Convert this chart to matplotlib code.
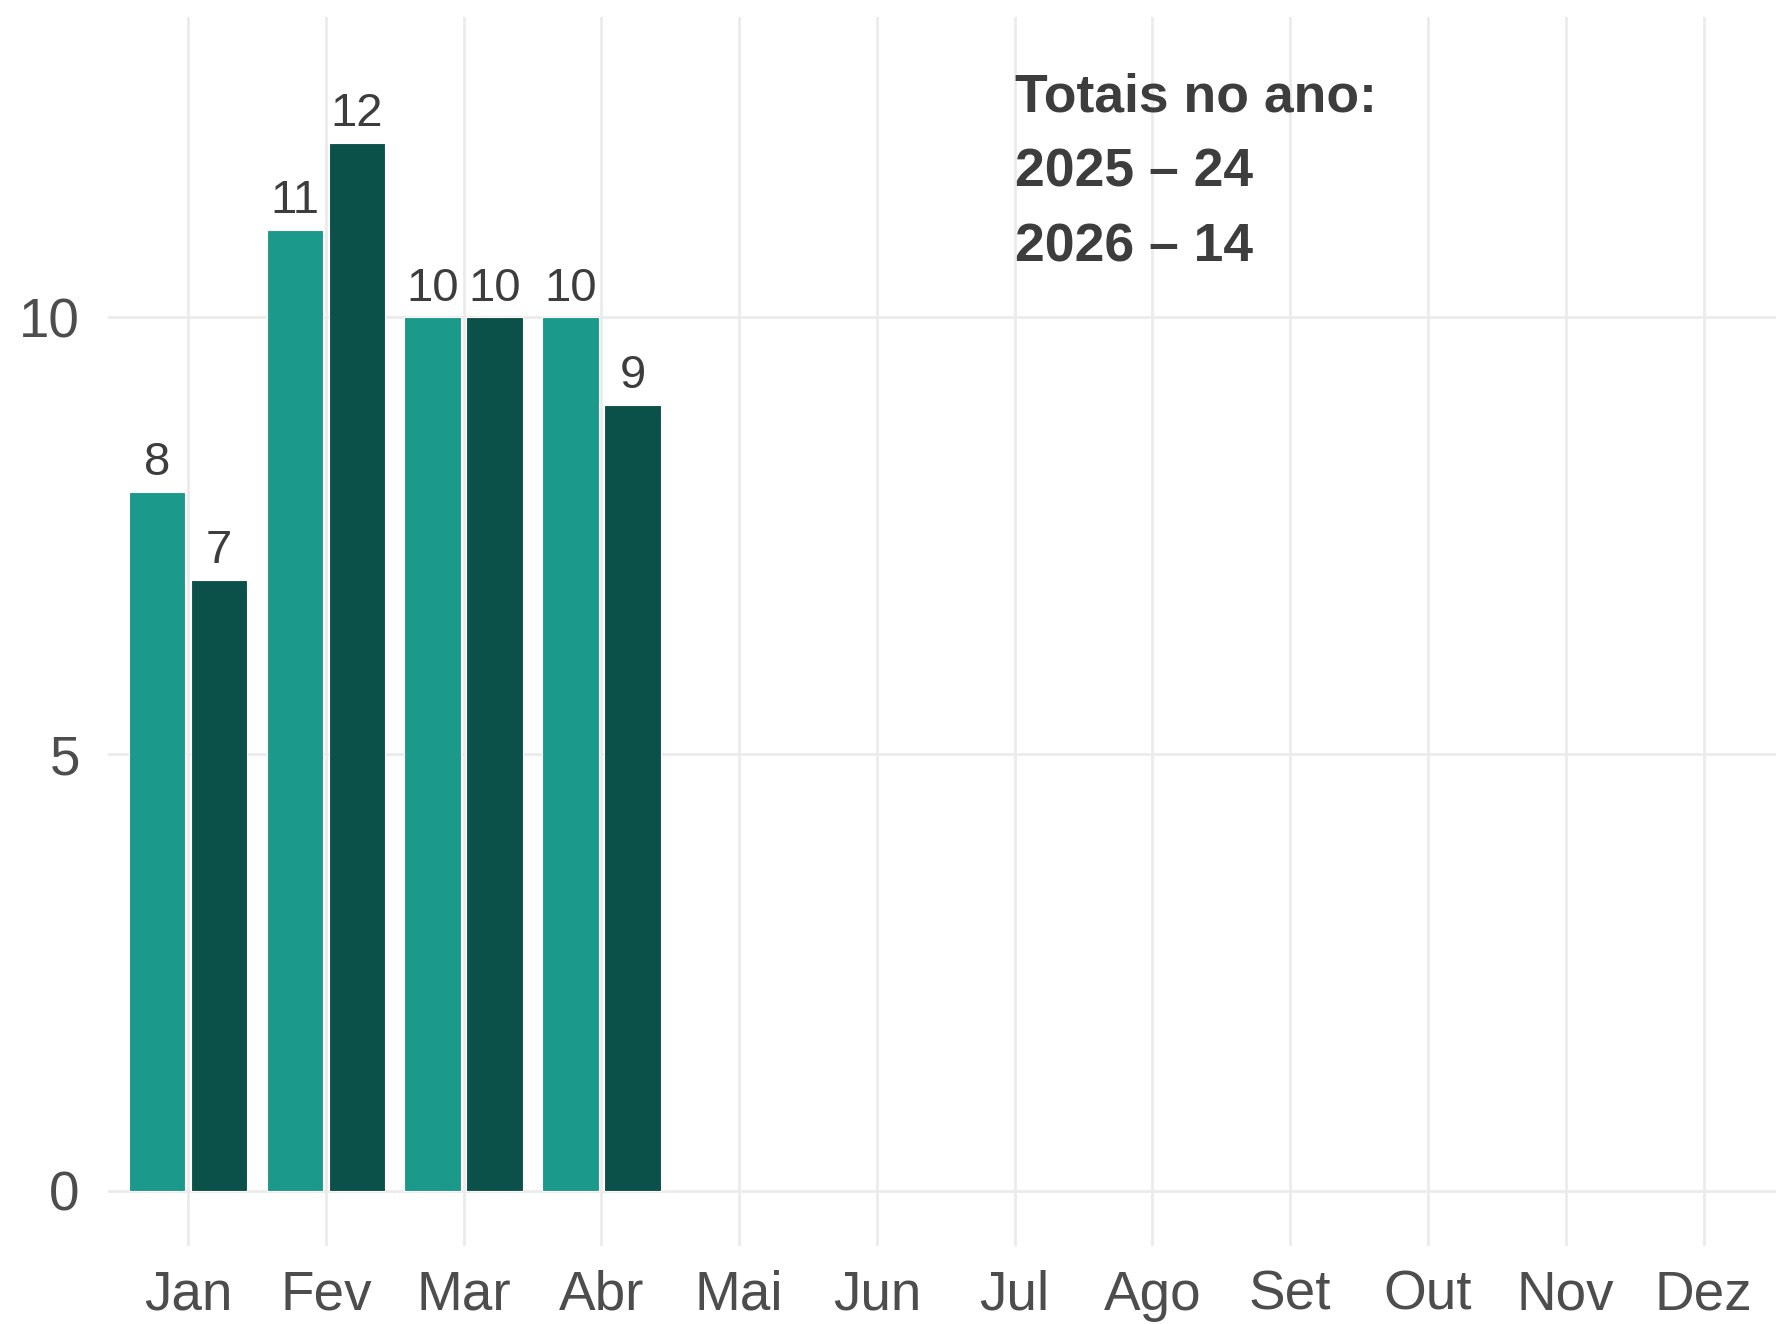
import numpy as np
import matplotlib
matplotlib.use("Agg")
import matplotlib.pyplot as plt

plt.rcParams['font.family'] = ['Liberation Sans', 'DejaVu Sans']

months = ["Jan", "Fev", "Mar", "Abr", "Mai", "Jun",
          "Jul", "Ago", "Set", "Out", "Nov", "Dez"]
months_with_data = ["Jan", "Fev", "Mar", "Abr"]
values_2025 = [8, 11, 10, 10]
values_2026 = [7, 12, 10, 9]
totals_years = ["2025", "2026"]
totals_values = [24, 14]

color_2025 = "#1b998b"
color_2026 = "#0b5149"
text_color = "#3d3d3d"
tick_color = "#4d4d4d"
grid_color = "#ebebeb"

fig = plt.figure(figsize=(17.76, 13.24), dpi=100)
ax = fig.add_axes([0.0606, 0.0589, 0.9394, 0.9283])

x_all = np.arange(len(months))
x_data = np.array([months.index(m) for m in months_with_data])
width = 0.41
offset = 0.225

bars25 = ax.bar(x_data - offset, values_2025, width=width, color=color_2025,
                edgecolor="white", linewidth=0.8, zorder=2)
bars26 = ax.bar(x_data + offset, values_2026, width=width, color=color_2026,
                edgecolor="white", linewidth=0.8, zorder=2)

for bars in (bars25, bars26):
    for b in bars:
        ax.annotate(str(int(b.get_height())),
                    (b.get_x() + b.get_width() / 2, b.get_height()),
                    xytext=(0, 5), textcoords="offset points",
                    ha="center", va="bottom", fontsize=34, color=text_color)

# totals box
lines = ["Totais no ano:"] + [f"{y} – {v}" for y, v in zip(totals_years, totals_values)]
for i, line in enumerate(lines):
    ax.annotate(line, (6, 12.36), xytext=(0, -54 * i), textcoords="offset points",
                ha="left", va="baseline", fontsize=38.5, fontweight="bold",
                color=text_color)

ax.set_xlim(-0.584, 11.526)
ax.set_ylim(-0.63, 13.44)
ax.set_xticks(x_all)
ax.set_xticklabels(months)
ax.set_yticks([0, 5, 10])
ax.tick_params(axis="both", length=0, labelsize=39.5, labelcolor=tick_color)
ax.tick_params(axis="x", pad=17)
ax.tick_params(axis="y", pad=20)

ax.grid(True, color=grid_color, linewidth=2, zorder=0)
ax.set_axisbelow(True)
for s in ax.spines.values():
    s.set_visible(False)

fig.savefig("out.png", dpi=100, facecolor="white")
